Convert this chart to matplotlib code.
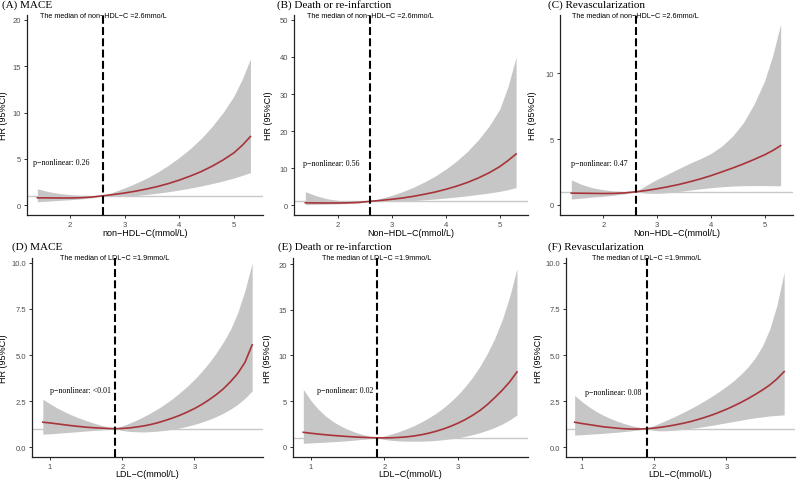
"""
Restricted cubic spline HR curves for non-HDL-C and LDL-C (six panels).
"""
import matplotlib
matplotlib.use("Agg")
import matplotlib.pyplot as plt

# non-HDL-C grid (mmol/L)
nonhdl_x = [1.4, 1.6, 1.8, 2.0, 2.2, 2.4, 2.6, 2.8, 3.0, 3.2, 3.4, 3.6, 3.8, 4.0,
            4.2, 4.4, 4.6, 4.8, 5.0, 5.15, 5.3]

mace_nonhdl_hr = [0.78, 0.77, 0.76, 0.76, 0.79, 0.86, 1.0, 1.14, 1.3, 1.5, 1.73, 2.0, 2.32, 2.7,
                  3.13, 3.62, 4.2, 4.87, 5.65, 6.45, 7.4]
mace_nonhdl_hi = [1.75, 1.45, 1.25, 1.12, 1.04, 1.0, 1.0, 1.42, 1.85, 2.35, 2.9, 3.55, 4.3, 5.15,
                  6.1, 7.2, 8.5, 10.0, 11.8, 13.6, 15.8]
mace_nonhdl_lo = [0.35, 0.42, 0.5, 0.57, 0.66, 0.78, 1.0, 0.94, 0.96, 1.03, 1.14, 1.28, 1.44, 1.62,
                  1.83, 2.06, 2.32, 2.6, 2.92, 3.2, 3.5]

death_nonhdl_hr = [0.6, 0.57, 0.55, 0.55, 0.6, 0.72, 1.0, 1.25, 1.55, 1.9, 2.35, 2.9, 3.5, 4.25,
                   5.1, 6.1, 7.3, 8.7, 10.4, 12.0, 13.8]
death_nonhdl_hi = [3.6, 2.5, 1.7, 1.25, 1.05, 1.0, 1.0, 1.8, 2.6, 3.6, 4.8, 6.2, 7.8, 9.7,
                   11.9, 14.5, 17.6, 21.3, 26.0, 32.0, 40.0]
death_nonhdl_lo = [0.1, 0.17, 0.24, 0.3, 0.4, 0.55, 1.0, 0.93, 0.96, 1.05, 1.2, 1.4, 1.62, 1.88,
                   2.17, 2.5, 2.86, 3.25, 3.7, 4.15, 4.7]

revasc_nonhdl_hr = [0.9, 0.89, 0.88, 0.87, 0.88, 0.92, 1.0, 1.1, 1.23, 1.38, 1.55, 1.75, 1.97, 2.22,
                    2.5, 2.79, 3.1, 3.44, 3.8, 4.12, 4.5]
revasc_nonhdl_hi = [1.9, 1.55, 1.3, 1.15, 1.06, 1.02, 1.0, 1.5, 1.95, 2.35, 2.75, 3.15, 3.5, 3.9,
                    4.45, 5.2, 6.2, 7.6, 9.4, 11.3, 13.7]
revasc_nonhdl_lo = [0.45, 0.52, 0.6, 0.66, 0.74, 0.84, 1.0, 0.9, 0.88, 0.93, 1.02, 1.12, 1.22, 1.31,
                    1.38, 1.43, 1.46, 1.47, 1.47, 1.46, 1.46]

# LDL-C grid (mmol/L)
ldl_x = [0.9, 1.0, 1.1, 1.2, 1.3, 1.4, 1.5, 1.6, 1.7, 1.8, 1.9, 2.0, 2.1, 2.2, 2.3,
         2.4, 2.5, 2.6, 2.7, 2.8, 2.9, 3.0, 3.1, 3.2, 3.3, 3.4, 3.5, 3.6, 3.7, 3.8]

mace_ldl_hr = [1.35, 1.31, 1.26, 1.21, 1.16, 1.12, 1.08, 1.05, 1.03, 1.01, 1.0, 1.01, 1.04, 1.09, 1.15,
               1.23, 1.33, 1.45, 1.58, 1.73, 1.9, 2.09, 2.31, 2.56, 2.84, 3.16, 3.55, 4.0, 4.6, 5.55]
mace_ldl_hi = [2.6, 2.35, 2.12, 1.92, 1.74, 1.58, 1.44, 1.31, 1.19, 1.09, 1.0, 1.15, 1.3, 1.47, 1.66,
               1.87, 2.1, 2.36, 2.64, 2.96, 3.3, 3.68, 4.1, 4.57, 5.1, 5.7, 6.4, 7.3, 8.5, 10.0]
mace_ldl_lo = [0.7, 0.72, 0.75, 0.78, 0.81, 0.84, 0.87, 0.9, 0.93, 0.96, 1.0, 0.9, 0.85, 0.83, 0.82,
               0.84, 0.87, 0.91, 0.97, 1.04, 1.13, 1.23, 1.35, 1.49, 1.65, 1.84, 2.06, 2.32, 2.65, 3.05]

death_ldl_hr = [1.6, 1.5, 1.41, 1.33, 1.26, 1.2, 1.14, 1.09, 1.05, 1.02, 1.0, 0.99, 1.0, 1.04, 1.1,
                1.2, 1.33, 1.5, 1.71, 1.96, 2.26, 2.6, 3.0, 3.47, 4.0, 4.65, 5.4, 6.2, 7.1, 8.2]
death_ldl_hi = [6.3, 5.1, 4.15, 3.4, 2.8, 2.32, 1.94, 1.62, 1.37, 1.17, 1.0, 1.2, 1.42, 1.68, 1.98,
                2.32, 2.72, 3.17, 3.68, 4.27, 4.95, 5.72, 6.62, 7.65, 8.85, 10.25, 11.9, 13.9, 16.4, 19.5]
death_ldl_lo = [0.4, 0.44, 0.48, 0.52, 0.57, 0.62, 0.68, 0.75, 0.83, 0.91, 1.0, 0.82, 0.72, 0.66, 0.63,
                0.62, 0.63, 0.66, 0.71, 0.79, 0.89, 1.01, 1.16, 1.35, 1.57, 1.83, 2.14, 2.5, 2.95, 3.5]

revasc_ldl_hr = [1.35, 1.28, 1.22, 1.16, 1.1, 1.06, 1.02, 0.99, 0.98, 0.98, 1.0, 1.03, 1.08, 1.14, 1.21,
                 1.29, 1.38, 1.49, 1.61, 1.74, 1.89, 2.05, 2.23, 2.42, 2.63, 2.86, 3.1, 3.37, 3.7, 4.1]
revasc_ldl_hi = [2.8, 2.47, 2.18, 1.93, 1.72, 1.54, 1.39, 1.26, 1.15, 1.07, 1.0, 1.17, 1.34, 1.51, 1.69,
                 1.88, 2.08, 2.29, 2.52, 2.76, 3.02, 3.3, 3.6, 3.95, 4.35, 4.85, 5.5, 6.4, 7.7, 9.5]
revasc_ldl_lo = [0.65, 0.67, 0.7, 0.72, 0.75, 0.78, 0.81, 0.85, 0.89, 0.94, 1.0, 0.9, 0.88, 0.89, 0.92,
                 0.96, 1.01, 1.06, 1.12, 1.18, 1.25, 1.32, 1.39, 1.46, 1.53, 1.59, 1.64, 1.69, 1.72, 1.75]

titles = ["(A) MACE", "(B) Death or re-infarction", "(C) Revascularization",
          "(D) MACE", "(E) Death or re-infarction", "(F) Revascularization"]
xlabels = ["non\u2212HDL\u2212C(mmol/L)", "Non\u2212HDL\u2212C(mmol/L)", "Non\u2212HDL\u2212C(mmol/L)",
           "LDL\u2212C(mmol/L)", "LDL\u2212C(mmol/L)", "LDL\u2212C(mmol/L)"]
p_labels = ["p\u2212nonlinear: 0.26", "p\u2212nonlinear: 0.56", "p\u2212nonlinear: 0.47",
            "p\u2212nonlinear: <0.01", "p\u2212nonlinear: 0.02", "p\u2212nonlinear: 0.08"]
median_nonhdl = 2.6
median_ldl = 1.9

RED = "#a8343a"
BAND = "#c6c6c6"
SANS = "Liberation Sans"
SERIF = "Liberation Serif"

W, H = 800, 481
fig = plt.figure(figsize=(W / 100, H / 100), dpi=100)


def px_axes(left, top, right, bottom):
    """Axes from a pixel box (top-left origin)."""
    return fig.add_axes([left / W, 1 - bottom / H, (right - left) / W, (bottom - top) / H])


panels = [
    # box, x, hr, lo, hi, median, xlim, ylim, yticks, yfmt, p-label pos, title xy, ylabel x
    ((27, 16, 263, 216), nonhdl_x, mace_nonhdl_hr, mace_nonhdl_lo, mace_nonhdl_hi,
     median_nonhdl, (1.21, 5.53), (-1.08, 20.54), [0, 5, 10, 15, 20], "{:.0f}", (1.84, 4.6),
     (2, 5), 8),
    ((294, 16, 528, 216), nonhdl_x, death_nonhdl_hr, death_nonhdl_lo, death_nonhdl_hi,
     median_nonhdl, (1.19, 5.52), (-2.7, 51.35), [0, 10, 20, 30, 40, 50], "{:.0f}", (1.88, 11.3),
     (277, 5), 273),
    ((560, 16, 793, 216), nonhdl_x, revasc_nonhdl_hr, revasc_nonhdl_lo, revasc_nonhdl_hi,
     median_nonhdl, (1.19, 5.53), (-0.76, 14.4), [0, 5, 10], "{:.0f}", (1.93, 3.2),
     (548, 5), 537),
    ((32, 259, 263, 458), ldl_x, mace_ldl_hr, mace_ldl_lo, mace_ldl_hi,
     median_ldl, (0.75, 3.95), (-0.54, 10.27), [0, 2.5, 5, 7.5, 10], "{:.1f}", (1.42, 3.08),
     (12, 247), 8),
    ((293, 259, 528, 458), ldl_x, death_ldl_hr, death_ldl_lo, death_ldl_hi,
     median_ldl, (0.76, 3.95), (-1.1, 20.66), [0, 5, 10, 15, 20], "{:.0f}", (1.47, 6.2),
     (278, 247), 272),
    ((566, 259, 795, 458), ldl_x, revasc_ldl_hr, revasc_ldl_lo, revasc_ldl_hi,
     median_ldl, (0.78, 3.95), (-0.54, 10.27), [0, 2.5, 5, 7.5, 10], "{:.1f}", (1.43, 3.0),
     (548, 247), 543),
]

for i, (box, x, hr, lo, hi, med, xlim, ylim, yticks, yfmt, ppos, tpos, ylab_x) in enumerate(panels):
    ax = px_axes(*box)
    # confidence band and fitted curve
    ax.fill_between(x, lo, hi, color=BAND, linewidth=0, zorder=1)
    ax.axhline(1, color="#c8c8c8", linewidth=1.0, zorder=2)
    ax.plot(x, hr, color=RED, linewidth=1.2, zorder=3)
    ax.axvline(med, color="black", linewidth=1.5, linestyle=(0, (3.8, 1.6)), zorder=4)

    ax.set_xlim(*xlim)
    ax.set_ylim(*ylim)
    ax.set_yticks(yticks)
    ax.set_yticklabels([yfmt.format(v) for v in yticks])
    if i < 3:
        ax.set_xticks([2, 3, 4, 5])
    else:
        ax.set_xticks([1, 2, 3])

    for side in ("top", "right"):
        ax.spines[side].set_visible(False)
    for side in ("left", "bottom"):
        ax.spines[side].set_linewidth(0.9)
        ax.spines[side].set_color("#222222")
    ax.tick_params(axis="both", length=2.5, width=0.7, color="#333333",
                   labelsize=5.5, labelcolor="#4d4d4d", pad=2)
    for lab in ax.get_xticklabels() + ax.get_yticklabels():
        lab.set_family(SANS)

    width = box[2] - box[0]
    height = box[3] - box[1]
    ax.set_xlabel(xlabels[i], fontsize=6.5, family=SANS)
    ax.xaxis.set_label_coords(0.5, -(13 if i < 3 else 12) / height)
    ax.set_ylabel("HR (95%CI)", fontsize=6.5, family=SANS)
    ax.yaxis.set_label_coords((ylab_x - box[0]) / width, 0.5)

    # panel title in serif, above the axes
    fig.text(tpos[0] / W, 1 - tpos[1] / H, titles[i], fontsize=8, family=SERIF,
             ha="left", va="center")

    name = "non\u2212HDL\u2212C =2.6mmo/L" if i < 3 else "LDL\u2212C =1.9mmo/L"
    ax.annotate("The median of " + name, xy=(med, 1.0), xycoords=("data", "axes fraction"),
                fontsize=5.2, family=SANS, ha="center", va="center", zorder=5)
    ax.text(ppos[0], ppos[1], p_labels[i], fontsize=5.7, family=SERIF,
            ha="center", va="center", zorder=5)

fig.savefig("out.png", dpi=100)
